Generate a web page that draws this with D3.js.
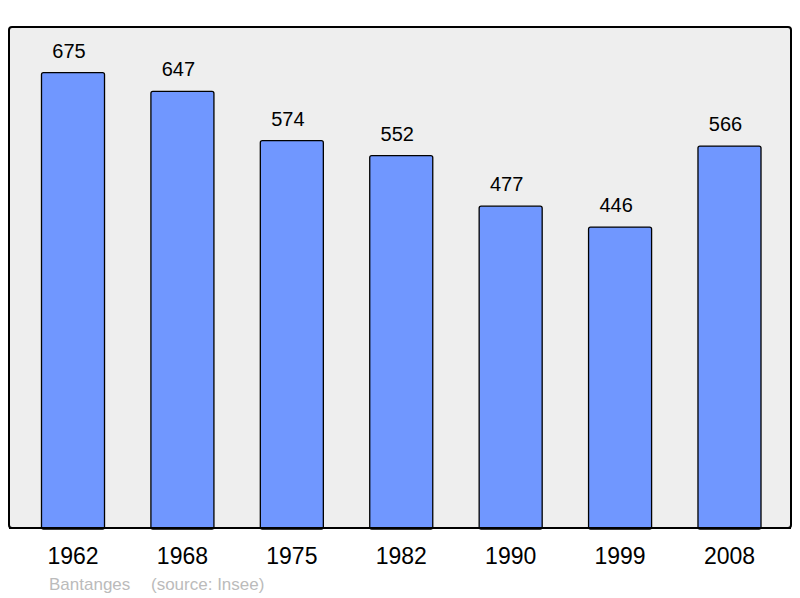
<!DOCTYPE html>
<html><head><meta charset="utf-8">
<script src="https://cdn.jsdelivr.net/npm/d3@7"></script>
<style>body{margin:0;background:#fff}svg{display:block}text{font-family:"Liberation Sans",Arial,sans-serif}</style>
</head><body>
<script>
const years = ["1962","1968","1975","1982","1990","1999","2008"];
const population = [675,647,574,552,477,446,566];
const commune = "Bantanges";
const source = "(source: Insee)";

const W = 800, H = 598;
const svg = d3.select("body").append("svg").attr("width", W).attr("height", H);
const plot = {x0: 9, x1: 791, y0: 27, y1: 528};

svg.append("rect").attr("x", plot.x0).attr("y", plot.y0)
  .attr("width", plot.x1 - plot.x0).attr("height", plot.y1 - plot.y0)
  .attr("rx", 3).attr("fill", "#eeeeee").attr("stroke", "#000").attr("stroke-width", 2);

const x = d3.scaleBand().domain(years).range([18.3, 784.2]).paddingInner(0.424).paddingOuter(0.212);
const y = d3.scaleLinear().domain([0, d3.max(population) * 1.1]).range([plot.y1, plot.y0]);

const g = svg.append("g");
g.selectAll("rect.bar").data(years).join("rect").attr("class","bar")
  .attr("x", d => x(d)).attr("width", x.bandwidth())
  .attr("y", (d,i) => y(population[i])).attr("height", (d,i) => plot.y1 - y(population[i]) + 1)
  .attr("rx", 2).attr("fill", "#7097ff").attr("stroke", "#000").attr("stroke-width", 1.3);

g.selectAll("text.val").data(years).join("text").attr("class","val")
  .attr("x", d => x(d) + x.bandwidth()/2 - 4).attr("y", (d,i) => y(population[i]) - 15)
  .attr("text-anchor","middle").attr("font-size", 20).attr("fill","#000")
  .text((d,i) => population[i]);

svg.append("line").attr("x1", plot.x0).attr("x2", plot.x1).attr("y1", plot.y1).attr("y2", plot.y1)
  .attr("stroke","#000").attr("stroke-width",2);

const xa = svg.append("g").attr("transform", `translate(0,${plot.y1})`)
  .call(d3.axisBottom(x).tickSize(0).tickPadding(0));
xa.select(".domain").remove();
xa.selectAll("text").attr("y", 36).attr("dy", 0).attr("font-size", 23).attr("fill","#000")
  .attr("font-family", '"Liberation Sans",Arial,sans-serif');

svg.append("text").attr("x", 49).attr("y", 590).attr("font-size", 17).attr("fill","#bbbbbb").text(commune);
svg.append("text").attr("x", 151).attr("y", 590).attr("font-size", 17).attr("fill","#bbbbbb").text(source);
</script>
</body></html>
